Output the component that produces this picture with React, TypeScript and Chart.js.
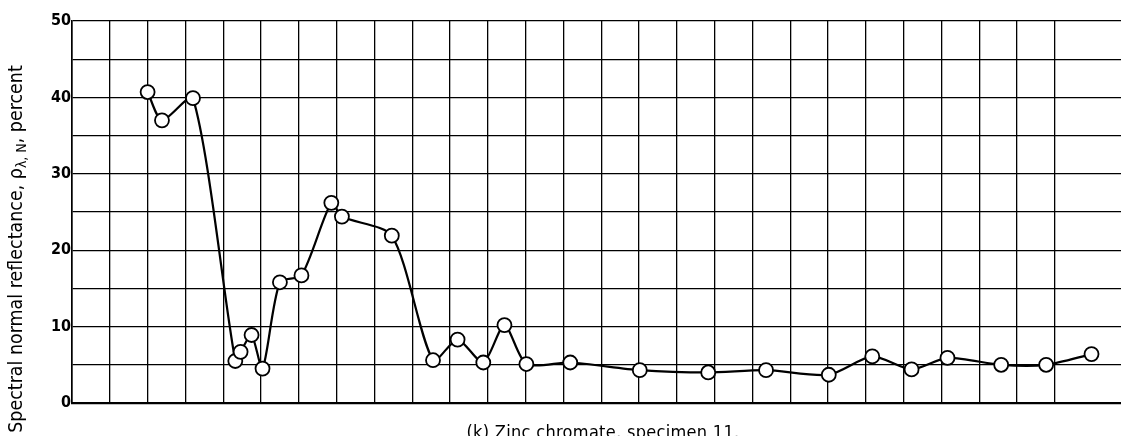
import React, { useEffect, useRef } from 'react';
import { Chart, registerables } from 'chart.js';

Chart.register(...registerables);

// Horizontal position of each measurement in grid columns (the x axis is unlabeled)
const gridPosition = [
  2.0, 2.38, 3.2, 4.32, 4.46, 4.75, 5.04, 5.5, 6.07, 6.86, 7.14, 8.46, 9.55, 10.2,
  10.88, 11.44, 12.02, 13.18, 15.02, 16.83, 18.36, 20.02, 21.17, 22.21, 23.16,
  24.58, 25.77, 26.97,
];
// Spectral normal reflectance, percent
const reflectance = [
  40.7, 37.0, 39.9, 5.5, 6.7, 8.9, 4.5, 15.8, 16.7, 26.2, 24.4, 21.9, 5.6, 8.3,
  5.3, 10.2, 5.1, 5.3, 4.3, 4.0, 4.3, 3.7, 6.1, 4.4, 5.9, 5.0, 5.0, 6.4,
];
const yLabeledTicks = [0, 10, 20, 30, 40, 50];
const yAxisTitleMain = 'Spectral normal reflectance, \u03c1';
const yAxisTitleSub = '\u03bb, N';
const yAxisTitleEnd = ', percent';
const caption = '(k) Zinc chromate, specimen 11.';

const SANS = "'DejaVu Sans Condensed', 'Liberation Sans', Arial, sans-serif";

const textPlugin = {
  id: 'textPlugin',
  afterDraw(chart: any) {
    const ctx = chart.ctx as CanvasRenderingContext2D;
    const area = chart.chartArea;
    ctx.save();
    ctx.fillStyle = '#000';
    // Y axis title (rotated, with subscript)
    const targetLen = 368;
    let size = 16;
    const measure = (s: number) => {
      ctx.font = `${s}px ${SANS}`;
      const a = ctx.measureText(yAxisTitleMain).width;
      const c = ctx.measureText(yAxisTitleEnd).width;
      ctx.font = `${s * 0.72}px ${SANS}`;
      const b = ctx.measureText(yAxisTitleSub).width;
      return { a, b, c };
    };
    let m = measure(size);
    size = Math.max(12, Math.min(22, (size * targetLen) / (m.a + m.b + m.c)));
    m = measure(size);
    const total = m.a + m.b + m.c;
    const cx = area.left - 55;
    const cy = (area.top + area.bottom) / 2 + 37;
    ctx.translate(cx, cy);
    ctx.rotate(-Math.PI / 2);
    ctx.textBaseline = 'middle';
    ctx.textAlign = 'left';
    let x = -total / 2;
    ctx.font = `${size}px ${SANS}`;
    ctx.fillText(yAxisTitleMain, x, 0);
    x += m.a;
    ctx.font = `${size * 0.72}px ${SANS}`;
    ctx.fillText(yAxisTitleSub, x, size * 0.3);
    x += m.b;
    ctx.font = `${size}px ${SANS}`;
    ctx.fillText(yAxisTitleEnd, x, 0);
    ctx.restore();

    // Caption (partly cut by the bottom edge, as in the scan)
    ctx.save();
    ctx.fillStyle = '#000';
    ctx.font = `18px ${SANS}`;
    const w = ctx.measureText(caption).width;
    const spacing = Math.max(-1, Math.min(3, (273 - w) / caption.length));
    (ctx as any).letterSpacing = `${spacing}px`;
    ctx.textAlign = 'center';
    ctx.textBaseline = 'middle';
    ctx.fillText(caption, 603, area.bottom + 30);
    ctx.restore();
  },
};

export default function App() {
  const canvasRef = useRef<HTMLCanvasElement | null>(null);

  useEffect(() => {
    if (!canvasRef.current) return;
    const points = gridPosition.map((gx, i) => ({ x: gx, y: reflectance[i] }));
    const chart = new Chart(canvasRef.current, {
      type: 'line',
      data: {
        datasets: [
          {
            data: points,
            borderColor: '#000',
            borderWidth: 2.2,
            tension: 0.25,
            pointRadius: 7,
            pointHoverRadius: 7,
            pointBackgroundColor: '#fff',
            pointBorderColor: '#000',
            pointBorderWidth: 1.8,
          },
        ],
      },
      options: {
        animation: false,
        responsive: true,
        maintainAspectRatio: false,
        layout: { autoPadding: false, padding: { left: 0, right: 0, top: 21, bottom: 33 } },
        plugins: {
          legend: { display: false },
          tooltip: { enabled: false },
          title: { display: false },
        },
        scales: {
          x: {
            type: 'linear',
            min: 0,
            max: 27.75,
            ticks: { display: false, stepSize: 1 },
            grid: {
              color: (c: any) => (c.tick && Number.isInteger(c.tick.value) ? '#000' : 'rgba(0,0,0,0)'),
              lineWidth: 1.3,
              drawTicks: false,
            },
            border: { display: true, color: '#000', width: 2.2 },
            afterFit: (s: any) => {
              s.height = 0;
            },
          },
          y: {
            min: 0,
            max: 50,
            ticks: {
              stepSize: 5,
              padding: 1,
              color: '#000',
              font: { family: SANS, size: 16, weight: 'bold' },
              callback: (v: any) => (yLabeledTicks.includes(Number(v)) ? String(v) : ''),
            },
            grid: { color: '#000', lineWidth: 1.3, drawTicks: false },
            border: { display: true, color: '#000', width: 1.6 },
            afterFit: (s: any) => {
              s.width = 72;
            },
          },
        },
      },
      plugins: [textPlugin],
    });
    return () => chart.destroy();
  }, []);

  return (
    <div style={{ position: 'absolute', left: 0, top: 0, width: 1121, height: 436, background: '#fff' }}>
      <canvas ref={canvasRef} />
    </div>
  );
}
